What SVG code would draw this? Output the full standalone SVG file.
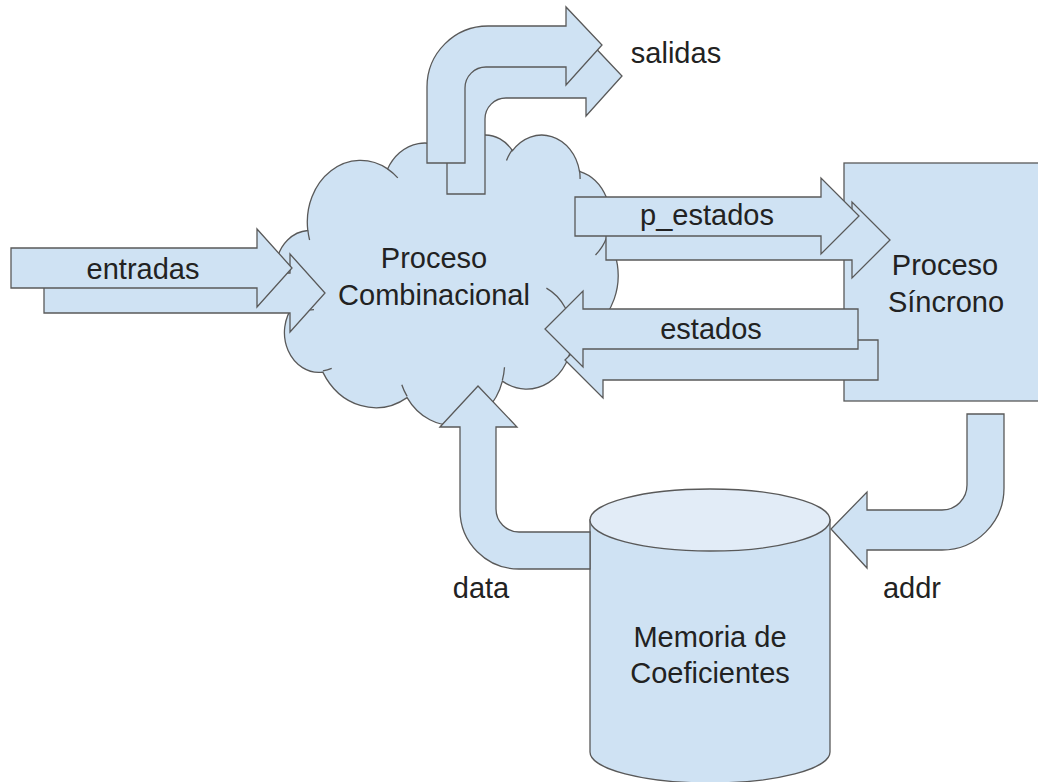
<svg xmlns="http://www.w3.org/2000/svg" width="1038" height="782" viewBox="0 0 1038 782">
<style>
.sh{fill:#cfe2f3;stroke:#595959;stroke-width:1.3;stroke-linejoin:miter}
.ln{fill:none;stroke:#595959;stroke-width:1.3}
.top{fill:#e2ecf7;stroke:#595959;stroke-width:1.3}
text{font-family:"Liberation Sans",Arial,sans-serif;font-size:29px;fill:#222;text-anchor:middle}
</style>
<rect width="1038" height="782" fill="#ffffff"/>
<g id="proceso-combinacional">
<path class="sh" d="M307.8,230.5 A53.30,61.69 0 0 1 387.6,168.9 A42.10,48.78 0 0 1 454.3,157.0 A34.46,39.91 0 0 1 512.5,150.7 A38.34,44.27 0 0 1 579.5,171.4 A42.10,48.82 0 0 1 607.1,237.8 A53.48,61.89 0 0 1 572.3,336.8 A45.66,52.81 0 0 1 502.4,381.1 A53.30,61.86 0 0 1 407.1,397.6 A60.94,70.78 0 0 1 322.8,372.1 A34.42,39.73 0 0 1 293.7,305.5 A34.30,39.91 0 0 1 307.8,230.5 Z"/>
<path class="ln" d="M314.0,309.7 A34.30,39.91 0 0 1 294.0,304.4 M331.7,368.3 A34.42,39.73 0 0 1 322.9,370.8 M407.1,396.4 A53.30,61.86 0 0 1 401.8,384.7 M504.5,367.3 A53.30,61.86 0 0 1 502.4,380.1 M546.4,288.1 A45.66,52.81 0 0 1 572.1,336.0 M606.9,237.1 A42.10,48.82 0 0 1 595.5,255.0 M579.5,170.4 A38.34,44.27 0 0 1 580.1,178.9 M506.5,160.5 A38.34,44.27 0 0 1 512.4,149.7 M451.8,165.7 A34.46,39.91 0 0 1 454.6,156.4 M387.5,168.9 A53.30,61.69 0 0 1 397.8,177.9 M309.6,240.0 A53.30,61.69 0 0 1 307.9,230.5"/>
<text x="434" y="268">Proceso</text>
<text x="434" y="305">Combinacional</text>
</g>
<g id="proceso-sincrono">
<rect class="sh" x="844" y="163" width="200" height="238"/>
<text x="945" y="275">Proceso</text>
<text x="946" y="312">Síncrono</text>
</g>
<g id="memoria-coeficientes">
<path class="sh" d="M590,520 L590,752 A120,31 0 0 0 830,752 L830,520 Z"/>
<ellipse class="top" cx="710" cy="520" rx="120" ry="31"/>
<text x="710" y="647">Memoria de</text>
<text x="710" y="683">Coeficientes</text>
</g>
<g id="connectors">
<polygon class="sh" points="44,273 290,273 290,254 325,293 290,332 290,313 44,313"/>
<polygon class="sh" points="11,248 257,248 257,229 292,268 257,307 257,288 11,288"/>
<polygon class="sh" points="606,221 852,221 852,202 890,240 852,278 852,260 606,260"/>
<polygon class="sh" points="575,197 821,197 821,178 859,216 821,254 821,236 575,236"/>
<polygon class="sh" points="878,340 603,340 603,322 565,360 603,398 603,380 878,380"/>
<polygon class="sh" points="858,309 583,309 583,291 545,329 583,367 583,349 858,349"/>
<path class="sh" d="M447,194 L447,118 A61,61 0 0 1 508,57 L586,57 L586,38 L622,76 L586,116 L586,98 L506,98 A21,21 0 0 0 485,119 L485,194 Z"/>
<path class="sh" d="M427,163 L427,87 A61,61 0 0 1 488,26 L566,26 L566,7 L602,45 L566,85 L566,67 L486,67 A21,21 0 0 0 465,88 L465,163 Z"/>
<path class="sh" d="M440,427 L478,386 L517,427 L496,427 L496,509 A23,23 0 0 0 519,532 L590,532 L590,569 L519,569 A59,59 0 0 1 460,510 L460,427 Z"/>
<path class="sh" d="M967,414 L1004,414 L1004,488 A62,62 0 0 1 942,550 L867,550 L867,568 L831,529 L867,492 L867,510 L942,510 A25,25 0 0 0 967,485 Z"/>
<text x="143" y="279">entradas</text>
<text x="707" y="225">p_estados</text>
<text x="711" y="339">estados</text>
<text x="676" y="63">salidas</text>
<text x="912" y="598">addr</text>
<text x="481" y="598">data</text>
</g>
</svg>
